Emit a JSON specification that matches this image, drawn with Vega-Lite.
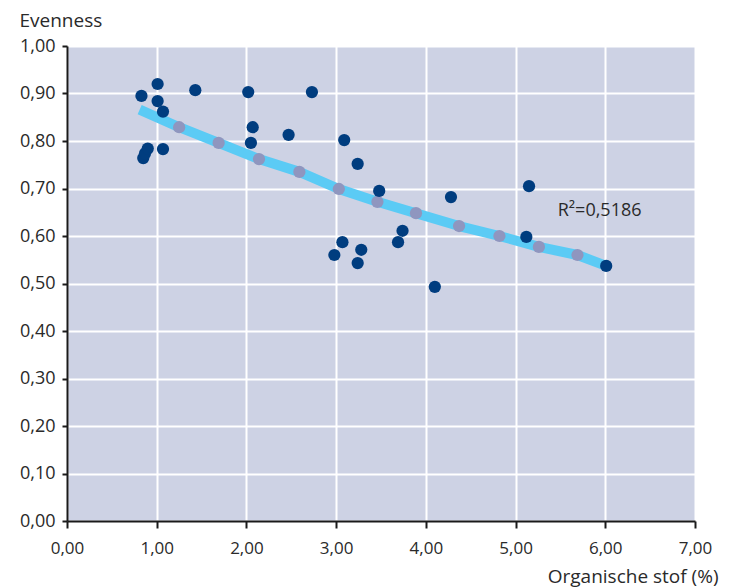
{
  "$schema": "https://vega.github.io/schema/vega-lite/v6.json",
  "width": 628,
  "height": 475,
  "autosize": {"type": "none"},
  "padding": {"left": 67, "top": 46, "right": 39, "bottom": 66},
  "background": "white",
  "config": {
    "view": {"fill": "#cdd2e4", "stroke": null},
    "font": "Open Sans"
  },
  "datasets": {
    "obs": [
      {"x": 0.83, "y": 0.895}, {"x": 1.01, "y": 0.920}, {"x": 1.01, "y": 0.884}, {"x": 1.07, "y": 0.862},
      {"x": 1.43, "y": 0.907}, {"x": 2.02, "y": 0.903}, {"x": 2.73, "y": 0.903},
      {"x": 0.85, "y": 0.764}, {"x": 0.87, "y": 0.774}, {"x": 0.90, "y": 0.784}, {"x": 1.07, "y": 0.783},
      {"x": 2.07, "y": 0.829}, {"x": 2.05, "y": 0.796}, {"x": 2.47, "y": 0.813}, {"x": 3.09, "y": 0.802},
      {"x": 3.24, "y": 0.752}, {"x": 3.48, "y": 0.695},
      {"x": 3.07, "y": 0.587}, {"x": 2.98, "y": 0.560}, {"x": 3.28, "y": 0.571}, {"x": 3.24, "y": 0.543},
      {"x": 3.74, "y": 0.611}, {"x": 3.69, "y": 0.587},
      {"x": 4.28, "y": 0.682}, {"x": 4.10, "y": 0.493}, {"x": 5.15, "y": 0.705}, {"x": 5.12, "y": 0.598},
      {"x": 6.01, "y": 0.537}
    ],
    "fit": [
      {"x": 1.25, "y": 0.829}, {"x": 1.69, "y": 0.796}, {"x": 2.14, "y": 0.762}, {"x": 2.59, "y": 0.735},
      {"x": 3.03, "y": 0.699}, {"x": 3.46, "y": 0.672}, {"x": 3.89, "y": 0.648}, {"x": 4.37, "y": 0.621},
      {"x": 4.82, "y": 0.600}, {"x": 5.26, "y": 0.577}, {"x": 5.69, "y": 0.560}
    ],
    "trend": [
      {"x": 0.81, "y": 0.866}, {"x": 1.25, "y": 0.829}, {"x": 1.69, "y": 0.796}, {"x": 2.14, "y": 0.762},
      {"x": 2.59, "y": 0.735}, {"x": 3.03, "y": 0.699}, {"x": 3.46, "y": 0.672}, {"x": 3.89, "y": 0.648},
      {"x": 4.37, "y": 0.621}, {"x": 4.82, "y": 0.600}, {"x": 5.26, "y": 0.577}, {"x": 5.69, "y": 0.560},
      {"x": 6.01, "y": 0.537}
    ],
    "note": [
      {"x": 5.47, "y": 0.652, "label": "R²=0,5186"}
    ]
  },
  "encoding": {
    "x": {
      "field": "x", "type": "quantitative",
      "scale": {"domain": [0, 7], "nice": false, "zero": true},
      "axis": {
        "values": [0, 1, 2, 3, 4, 5, 6, 7],
        "labelExpr": "replace(format(datum.value, '.2f'), '.', ',')",
        "title": "Organische stof (%)",
        "titleAnchor": "end", "titleAlign": "right", "titleX": 651, "titleY": 61,
        "titleBaseline": "alphabetic",
        "titleFont": "Open Sans", "titleFontSize": 19, "titleFontWeight": "normal", "titleColor": "#2a2a2a",
        "labelFont": "Open Sans", "labelFontSize": 17, "labelColor": "#2a2a2a", "labelPadding": 12,
        "labelFlush": false, "labelOverlap": false,
        "domainColor": "#1a1a1a", "domainWidth": 2,
        "tickColor": "#1a1a1a", "tickWidth": 2, "tickSize": 7,
        "grid": true, "gridColor": "white", "gridWidth": 2, "gridOpacity": 1
      }
    },
    "y": {
      "field": "y", "type": "quantitative",
      "scale": {"domain": [0, 1], "nice": false, "zero": true},
      "axis": {
        "values": [0, 0.1, 0.2, 0.3, 0.4, 0.5, 0.6, 0.7, 0.8, 0.9, 1.0],
        "labelExpr": "replace(format(datum.value, '.2f'), '.', ',')",
        "title": "Evenness",
        "titleAngle": 0, "titleAlign": "left", "titleBaseline": "alphabetic",
        "titleX": -48, "titleY": -20,
        "titleFont": "Open Sans", "titleFontSize": 19, "titleFontWeight": "normal", "titleColor": "#2a2a2a",
        "labelFont": "Open Sans", "labelFontSize": 18, "labelColor": "#2a2a2a", "labelPadding": 7,
        "labelFlush": false, "labelOverlap": false,
        "domainColor": "#1a1a1a", "domainWidth": 2,
        "tickColor": "#1a1a1a", "tickWidth": 2, "tickSize": 5,
        "grid": true, "gridColor": "white", "gridWidth": 2, "gridOpacity": 1
      }
    }
  },
  "layer": [
    {
      "data": {"name": "trend"},
      "mark": {"type": "line", "color": "#5bcbf5", "strokeWidth": 10, "strokeCap": "butt", "strokeJoin": "round"}
    },
    {
      "data": {"name": "fit"},
      "mark": {"type": "point", "filled": true, "shape": "circle", "size": 150, "color": "#8f96bf", "opacity": 1}
    },
    {
      "data": {"name": "obs"},
      "mark": {"type": "point", "filled": true, "shape": "circle", "size": 150, "color": "#003d7f", "opacity": 1}
    },
    {
      "data": {"name": "note"},
      "mark": {"type": "text", "align": "left", "baseline": "middle", "font": "Open Sans", "fontSize": 18, "color": "#2a2a2a"},
      "encoding": {"text": {"field": "label"}}
    }
  ]
}
